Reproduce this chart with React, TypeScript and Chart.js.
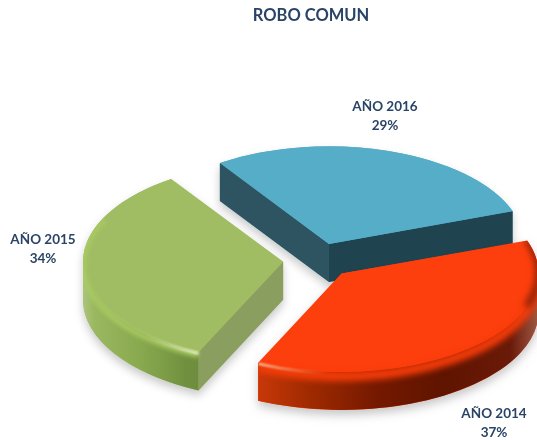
import { useEffect, useRef } from "react";
import { Chart, registerables } from "chart.js";

Chart.register(...registerables);

const TITLE = "ROBO COMUN";
const categories = ["AÑO 2014", "AÑO 2015", "AÑO 2016"];
const values = [37.4, 33.6, 29];
const percentLabels = ["37%", "34%", "29%"];

const topColors = ["#fd3f0d", "#a0bd63", "#55adc7"];
const offsets = [140, 140, 140];
const faceRadii = [197, 200, 195];
const labelCenters = [[494, 414], [43, 240], [385, 107]];
const drawOrder = [2, 1, 0];

const SQUASH = 0.5;
const DEPTH = 38;
const TEXT_COLOR = "#2a4467";
const FONT = "Lato";

const wallStops: [number, string][][] = [
  [[0, "#c83808"], [0.18, "#a02a00"], [0.42, "#751900"], [0.66, "#5f1400"], [0.9, "#6a1a08"], [1, "#9f5a45"]],
  [[0, "#abc47c"], [0.1, "#9ab85f"], [0.5, "#89a94f"], [0.9, "#70903f"], [1, "#6f8c3f"]],
  [[0, "#2d5460"], [1, "#2d5460"]],
];
const startWallColors = ["#000", "#8a9e5f", "#2d5460"];
const endWallColors = ["#000", "#000", "#1f4450"];

const TAU = Math.PI * 2;

function geometry(arc: any, offset: number, target: number) {
  const { startAngle: s, endAngle: e } = arc;
  const half = (s + e) / 2;
  const fix = 1 - Math.sin(Math.min(Math.PI, e - s));
  const drawn = arc.outerRadius + (offset / 4) * fix;
  const scale = target / drawn;
  const r = target;
  const d = offset / 4;
  const ax = arc.x + Math.cos(half) * d;
  const ay = arc.y + Math.sin(half) * d;
  const x = ax;
  const y = arc.y + (ay - arc.y) * SQUASH;
  const p = (a: number, t = 0) => [x + r * Math.cos(a), y + r * SQUASH * Math.sin(a) + t];
  const startVisible = -Math.cos(s) > 0;
  const endVisible = Math.cos(e) > 0;
  return { s, e, r, x, y, ax, ay, scale, p, startVisible, endVisible };
}

function silhouette(ctx: CanvasRenderingContext2D, g: any) {
  ctx.beginPath();
  ctx.moveTo(g.x, g.y);
  if (g.startVisible) {
    ctx.lineTo(g.x, g.y + DEPTH);
    const q = g.p(g.s, DEPTH);
    ctx.lineTo(q[0], q[1]);
  }
  const n = 80;
  for (let i = 0; i <= n; i++) {
    const a = g.s + ((g.e - g.s) * i) / n;
    const q = g.p(a, Math.sin(a) > 0 ? DEPTH : 0);
    ctx.lineTo(q[0], q[1]);
  }
  if (g.endVisible) {
    const q = g.p(g.e, DEPTH);
    ctx.lineTo(q[0], q[1]);
    ctx.lineTo(g.x, g.y + DEPTH);
  } else if (Math.sin(g.e) > 0) {
    const q = g.p(g.e);
    ctx.lineTo(q[0], q[1]);
  }
  ctx.closePath();
}

function radialWall(ctx: CanvasRenderingContext2D, g: any, a: number, color: string) {
  const q = g.p(a);
  ctx.beginPath();
  ctx.moveTo(g.x, g.y);
  ctx.lineTo(q[0], q[1]);
  ctx.lineTo(q[0], q[1] + DEPTH);
  ctx.lineTo(g.x, g.y + DEPTH);
  ctx.closePath();
  ctx.fillStyle = color;
  ctx.fill();
}

function outerWall(ctx: CanvasRenderingContext2D, g: any, stops: [number, string][]) {
  const ranges: number[][] = [];
  for (let k = -1; k <= 1; k++) {
    const lo = Math.max(g.s, k * TAU);
    const hi = Math.min(g.e, k * TAU + Math.PI);
    if (hi > lo) ranges.push([lo, hi]);
  }
  for (const [a0, a1] of ranges) {
    const pa = g.p(a0);
    const pb = g.p(a1);
    const minX = Math.min(pa[0], pb[0]);
    const maxX = Math.max(pa[0], pb[0]);
    const grad = ctx.createLinearGradient(minX, 0, maxX, 0);
    stops.forEach(([o, c]) => grad.addColorStop(o, c));
    ctx.beginPath();
    ctx.ellipse(g.x, g.y, g.r, g.r * SQUASH, 0, a0, a1);
    ctx.ellipse(g.x, g.y + DEPTH, g.r, g.r * SQUASH, 0, a1, a0, true);
    ctx.closePath();
    ctx.fillStyle = grad;
    ctx.fill();
  }
}

function rim(ctx: CanvasRenderingContext2D, g: any, a0: number, a1: number, dy: number, width: number, blur: number, color: string | CanvasGradient) {
  ctx.save();
  ctx.filter = `blur(${blur}px)`;
  ctx.strokeStyle = color;
  ctx.lineWidth = width;
  ctx.beginPath();
  ctx.ellipse(g.x, g.y + dy, g.r, g.r * SQUASH, 0, a0, a1);
  ctx.stroke();
  ctx.restore();
}

const pie3d = {
  id: "pie3d",
  beforeDatasetDraw(chart: any) {
    const ctx: CanvasRenderingContext2D = chart.ctx;
    const arcs = chart.getDatasetMeta(0).data;
    for (const i of drawOrder) {
      const arc = arcs[i];
      const g = geometry(arc, offsets[i], faceRadii[i]);
      ctx.save();
      ctx.shadowColor = "rgba(0,0,0,0.22)";
      ctx.shadowBlur = 10;
      ctx.shadowOffsetY = 5;
      silhouette(ctx, g);
      ctx.fillStyle = topColors[i];
      ctx.fill();
      ctx.restore();

      if (g.startVisible) radialWall(ctx, g, g.s, startWallColors[i]);
      if (g.endVisible) radialWall(ctx, g, g.e, endWallColors[i]);
      outerWall(ctx, g, wallStops[i]);

      ctx.save();
      ctx.translate(g.x, g.y);
      ctx.scale(g.scale, g.scale * SQUASH);
      ctx.translate(-g.ax, -g.ay);
      arc.draw(ctx);
      ctx.restore();

      ctx.save();
      silhouette(ctx, g);
      ctx.clip();
      if (i === 1) {
        rim(ctx, g, g.s, g.s + 1.6, 3, 5, 2, "rgba(170,203,98,0.95)");
        const q = g.p(g.s);
        const gr = ctx.createLinearGradient(q[0] - 55, 0, q[0], 0);
        gr.addColorStop(0, "rgba(255,255,230,0)");
        gr.addColorStop(1, "rgba(250,255,225,0.95)");
        rim(ctx, g, g.s, g.s + 0.7, 1, 2.5, 1, gr);
      }
      if (i === 0) {
        rim(ctx, g, 0.1, g.e, 4, 10, 3, "#f73c09");
        const q = g.p(g.e);
        const gr = ctx.createLinearGradient(q[0], 0, q[0] + 70, 0);
        gr.addColorStop(0, "rgba(255,235,205,0.95)");
        gr.addColorStop(1, "rgba(255,200,150,0)");
        rim(ctx, g, g.e - 0.55, g.e, 1, 2, 0.8, gr);
        rim(ctx, g, g.s, 0.35, -1, 7, 3, "rgba(110,25,5,0.75)");
      }
      ctx.restore();
    }
    return false;
  },
  afterDraw(chart: any) {
    const ctx: CanvasRenderingContext2D = chart.ctx;
    ctx.save();
    ctx.fillStyle = TEXT_COLOR;
    ctx.textAlign = "center";
    ctx.textBaseline = "middle";
    ctx.font = `bold 16.5px ${FONT}`;
    ctx.fillText(TITLE, 311, 16);
    ctx.font = `bold 13.5px ${FONT}`;
    categories.forEach((c, i) => {
      const [x, y] = labelCenters[i];
      ctx.fillText(c, x, y);
      ctx.fillText(percentLabels[i], x, y + 19);
    });
    ctx.restore();
  },
};

export default function App() {
  const ref = useRef<HTMLCanvasElement>(null);
  useEffect(() => {
    document.body.style.margin = "0";
    document.body.style.background = "#ffffff";
    const chart = new Chart(ref.current as HTMLCanvasElement, {
      type: "pie",
      data: {
        labels: categories,
        datasets: [
          {
            data: values,
            backgroundColor: topColors,
            borderWidth: 0,
            offset: offsets,
            hoverOffset: 0,
          } as any,
        ],
      },
      options: {
        animation: false,
        responsive: false,
        rotation: 70.4,
        radius: 193,
        layout: { padding: { left: 99, top: 81, right: 0, bottom: 0 } },
        events: [],
        plugins: {
          legend: { display: false },
          tooltip: { enabled: false },
          title: { display: false },
        },
      } as any,
      plugins: [pie3d as any],
    });
    return () => chart.destroy();
  }, []);
  return <canvas ref={ref} width={537} height={440} style={{ display: "block", width: 537, height: 440 }} />;
}
